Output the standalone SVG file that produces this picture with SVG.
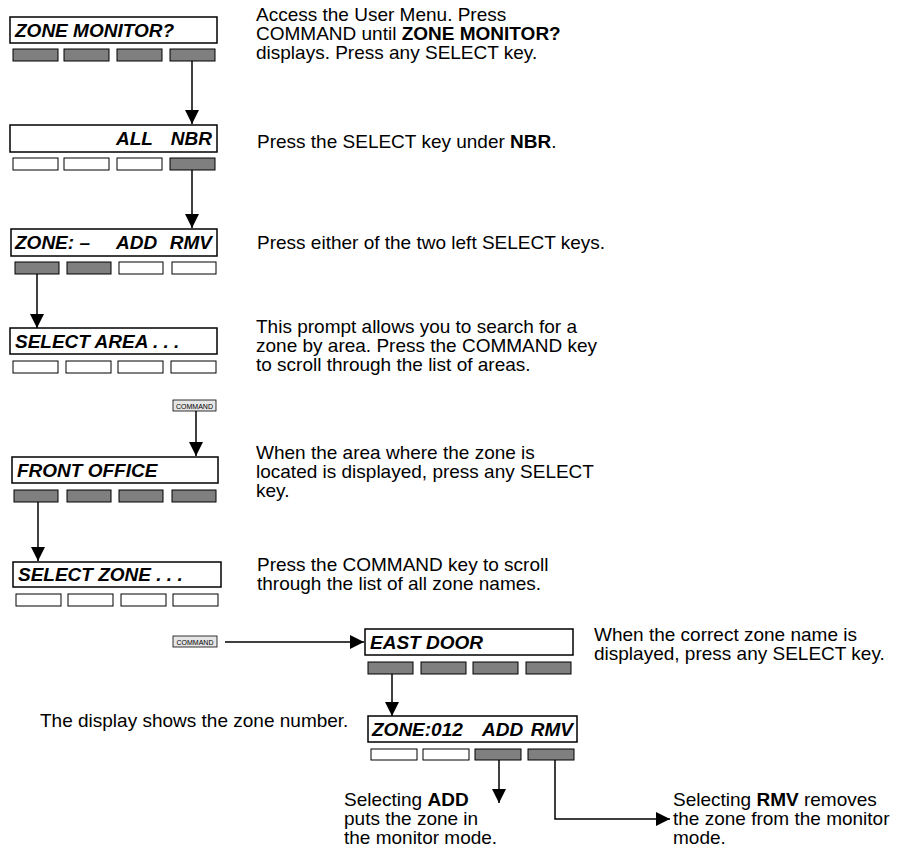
<svg xmlns="http://www.w3.org/2000/svg" width="900" height="853" viewBox="0 0 900 853">
<style>
.box{fill:#fff;stroke:#000;stroke-width:1.5}
.kf{fill:#7f7f7f;stroke:#000;stroke-width:1}
.kw{fill:#fff;stroke:#000;stroke-width:1}
.lcd{font-family:"Liberation Sans",Arial,sans-serif;font-weight:bold;font-style:italic;font-size:19px;fill:#000}
.t{font-family:"Liberation Sans",Arial,sans-serif;font-size:19px;fill:#000}
.b{font-weight:bold}
.cmd{fill:#e6e6e6;stroke:#000;stroke-width:0.8}
.cmdt{font-family:"Liberation Sans",Arial,sans-serif;font-size:7px;fill:#000}
.ln{fill:none;stroke:#000;stroke-width:1.5}
</style>
<defs>
<marker id="ah" viewBox="0 0 10 10" refX="10" refY="5" markerWidth="15" markerHeight="14" markerUnits="userSpaceOnUse" orient="auto">
<path d="M0,0 L10,5 L0,10 z" fill="#000"/>
</marker>
</defs>

<g id="n1">
<rect class="box" x="10" y="17" width="207" height="26"/>
<text class="lcd" x="15" y="37">ZONE MONITOR?</text>
<rect class="kf" x="13" y="49" width="45" height="12"/>
<rect class="kf" x="64" y="49" width="45" height="12"/>
<rect class="kf" x="117" y="49" width="45" height="12"/>
<rect class="kf" x="170" y="49" width="45" height="12"/>
</g>
<g id="n2">
<rect class="box" x="10" y="125" width="207" height="27"/>
<text class="lcd" x="116" y="145">ALL</text>
<text class="lcd" x="212" y="145" text-anchor="end">NBR</text>
<rect class="kw" x="13" y="158" width="45" height="12"/>
<rect class="kw" x="64" y="158" width="45" height="12"/>
<rect class="kw" x="117" y="158" width="45" height="12"/>
<rect class="kf" x="170" y="158" width="45" height="12"/>
</g>
<g id="n3">
<rect class="box" x="11" y="229" width="206" height="27"/>
<text class="lcd" x="15" y="249">ZONE: –</text>
<text class="lcd" x="116" y="249">ADD</text>
<text class="lcd" x="212" y="249" text-anchor="end">RMV</text>
<rect class="kf" x="15" y="262" width="44" height="12"/>
<rect class="kf" x="67" y="262" width="44" height="12"/>
<rect class="kw" x="119" y="262" width="44" height="12"/>
<rect class="kw" x="172" y="262" width="44" height="12"/>
</g>
<g id="n4">
<rect class="box" x="10" y="328" width="207" height="26"/>
<text class="lcd" x="15" y="348">SELECT AREA . . .</text>
<rect class="kw" x="13" y="361" width="45" height="12"/>
<rect class="kw" x="66" y="361" width="45" height="12"/>
<rect class="kw" x="118" y="361" width="45" height="12"/>
<rect class="kw" x="171" y="361" width="45" height="12"/>
</g>
<g id="cmd1">
<rect class="cmd" x="173" y="400" width="43" height="11"/>
<text class="cmdt" x="194.5" y="408.5" text-anchor="middle">COMMAND</text>
</g>
<g id="n5">
<rect class="box" x="12" y="457" width="206" height="26"/>
<text class="lcd" x="17" y="477">FRONT OFFICE</text>
<rect class="kf" x="14" y="490" width="44" height="12"/>
<rect class="kf" x="67" y="490" width="44" height="12"/>
<rect class="kf" x="119" y="490" width="44" height="12"/>
<rect class="kf" x="172" y="490" width="44" height="12"/>
</g>
<g id="n6">
<rect class="box" x="13" y="562" width="208" height="25"/>
<text class="lcd" x="18" y="581">SELECT ZONE . . .</text>
<rect class="kw" x="16" y="594" width="45" height="12"/>
<rect class="kw" x="68" y="594" width="45" height="12"/>
<rect class="kw" x="121" y="594" width="45" height="12"/>
<rect class="kw" x="173" y="594" width="45" height="12"/>
</g>
<g id="cmd2">
<rect class="cmd" x="173" y="636" width="44" height="11"/>
<text class="cmdt" x="195" y="644.5" text-anchor="middle">COMMAND</text>
</g>
<g id="n7">
<rect class="box" x="365" y="629" width="208" height="26"/>
<text class="lcd" x="370" y="649">EAST DOOR</text>
<rect class="kf" x="368" y="662" width="45" height="12"/>
<rect class="kf" x="421" y="662" width="45" height="12"/>
<rect class="kf" x="473" y="662" width="45" height="12"/>
<rect class="kf" x="526" y="662" width="45" height="12"/>
</g>
<g id="n8">
<rect class="box" x="368" y="716" width="209" height="26"/>
<text class="lcd" x="372" y="736">ZONE:012</text>
<text class="lcd" x="482" y="736">ADD</text>
<text class="lcd" x="573" y="736" text-anchor="end">RMV</text>
<rect class="kw" x="371" y="749" width="46" height="11"/>
<rect class="kw" x="423" y="749" width="46" height="11"/>
<rect class="kf" x="475" y="749" width="46" height="11"/>
<rect class="kf" x="528" y="749" width="46" height="11"/>
</g>

<g id="connectors">
<line class="ln" x1="192" y1="61" x2="192" y2="124" marker-end="url(#ah)"/>
<line class="ln" x1="192" y1="170" x2="192" y2="228" marker-end="url(#ah)"/>
<line class="ln" x1="37" y1="274" x2="37" y2="328" marker-end="url(#ah)"/>
<line class="ln" x1="196" y1="411" x2="196" y2="456" marker-end="url(#ah)"/>
<line class="ln" x1="38" y1="502" x2="38" y2="561" marker-end="url(#ah)"/>
<line class="ln" x1="225" y1="642" x2="364" y2="642" marker-end="url(#ah)"/>
<line class="ln" x1="392" y1="674" x2="392" y2="716" marker-end="url(#ah)"/>
<line class="ln" x1="499" y1="760" x2="499" y2="803" marker-end="url(#ah)"/>
<path class="ln" d="M555,760 V819 H670" marker-end="url(#ah)"/>
</g>

<g id="texts">
<text class="t" x="256" y="21">Access the User Menu. Press</text>
<text class="t" x="256" y="40">COMMAND until <tspan class="b">ZONE MONITOR?</tspan></text>
<text class="t" x="256" y="59">displays. Press any SELECT key.</text>
<text class="t" x="257" y="148">Press the SELECT key under <tspan class="b">NBR</tspan>.</text>
<text class="t" x="257" y="249">Press either of the two left SELECT keys.</text>
<text class="t" x="256" y="333">This prompt allows you to search for a</text>
<text class="t" x="256" y="352">zone by area. Press the COMMAND key</text>
<text class="t" x="256" y="371">to scroll through the list of areas.</text>
<text class="t" x="256" y="459">When the area where the zone is</text>
<text class="t" x="256" y="478">located is displayed, press any SELECT</text>
<text class="t" x="256" y="497">key.</text>
<text class="t" x="257" y="571">Press the COMMAND key to scroll</text>
<text class="t" x="257" y="590">through the list of all zone names.</text>
<text class="t" x="594" y="641">When the correct zone name is</text>
<text class="t" x="594" y="660">displayed, press any SELECT key.</text>
<text class="t" x="40" y="727">The display shows the zone number.</text>
<text class="t" x="344" y="806">Selecting <tspan class="b">ADD</tspan></text>
<text class="t" x="344" y="825">puts the zone in</text>
<text class="t" x="344" y="844">the monitor mode.</text>
<text class="t" x="673" y="806">Selecting <tspan class="b">RMV</tspan> removes</text>
<text class="t" x="673" y="825">the zone from the monitor</text>
<text class="t" x="673" y="844">mode.</text>
</g>
</svg>
